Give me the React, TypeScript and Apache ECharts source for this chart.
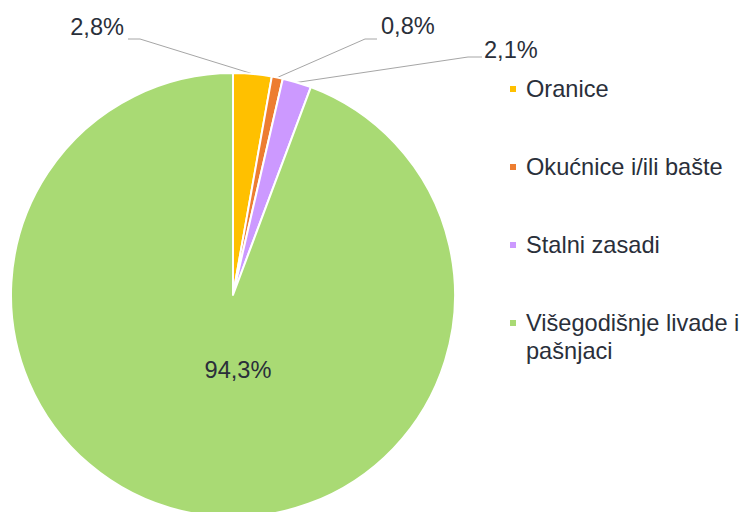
import React, { useEffect, useRef } from "react";
import * as echarts from "echarts";

const categories = ["Oranice", "Okućnice i/ili bašte", "Stalni zasadi", "Višegodišnje livade i pašnjaci"];
const legendLabels = ["Oranice", "Okućnice i/ili bašte", "Stalni zasadi", "\nVišegodišnje livade i\npašnjaci"];
const values = [2.8, 0.8, 2.1, 94.3];
const colors = ["#FFC000", "#ED7D31", "#CC99FF", "#A9DA74"];

const TEXT = "#2a2f3a";
const FONT = "'Liberation Sans', Arial, sans-serif";
const FS = 23.6;

export default function App() {
  const ref = useRef<HTMLDivElement>(null);
  useEffect(() => {
    if (!ref.current) return;
    const chart = echarts.init(ref.current, null, { renderer: "svg" });
    const cx = 233, cy = 295, r = 222;
    const total = values.reduce((a, b) => a + b, 0);
    const edge = (i: number) => {
      let before = 0;
      for (let k = 0; k < i; k++) before += values[k];
      const mid = ((before + values[i] / 2) / total) * Math.PI * 2;
      return [cx + r * Math.sin(mid), cy - r * Math.cos(mid)];
    };
    // label placement (layout only)
    const labelPos: any[] = [
      { x: 124, y: 27, align: "right", line: [[140, 39], [128, 39]] },
      { x: 381, y: 26, align: "left", line: [[365, 39], [377, 39]] },
      { x: 484, y: 50, align: "left", line: [[468, 57], [482, 57]] },
      { x: 238, y: 370, align: "center", line: null },
    ];
    const legendCenters = [89, 167, 245, 323];
    const legends = categories.map((name, i) => {
      const lines = legendLabels[i].split("\n").length;
      const lh = 28;
      return {
        show: true,
        orient: "vertical",
        left: 508,
        top: legendCenters[i] - (lines * lh) / 2,
        padding: 0,
        itemWidth: 8,
        itemHeight: 8,
        icon: "rect",
        selectedMode: false,
        data: [name],
        formatter: () => legendLabels[i],
        textStyle: {
          color: TEXT,
          fontSize: FS,
          fontFamily: FONT,
          lineHeight: lh,
          padding: [0, 0, 0, 4],
        },
      };
    });
    chart.setOption({
      animation: false,
      color: colors,
      legend: legends,
      series: [
        {
          type: "pie",
          center: [cx, cy],
          radius: r,
          startAngle: 90,
          clockwise: true,
          avoidLabelOverlap: false,
          itemStyle: { borderColor: "#ffffff", borderWidth: 2 },
          label: {
            show: true,
            position: "outside",
            color: TEXT,
            fontSize: FS,
            fontFamily: FONT,
            formatter: (p: any) => p.value.toFixed(1).replace(".", ",") + "%",
          },
          labelLine: { show: true, lineStyle: { color: "#a6a6a6", width: 1 } },
          labelLayout: (p: any) => {
            const lp = labelPos[p.dataIndex];
            const out: any = { x: lp.x, y: lp.y, align: lp.align, verticalAlign: "middle" };
            if (lp.line) {
              const start = edge(p.dataIndex);
              out.labelLinePoints = [start, lp.line[0], lp.line[1]];
            }
            return out;
          },
          emphasis: { disabled: true },
          data: categories.map((name, i) => ({
            name,
            value: values[i],
            ...(i === 3
              ? { label: { position: "inside" }, labelLine: { show: false } }
              : {}),
          })),
        },
      ],
    });
    return () => chart.dispose();
  }, []);
  return (
    <div
      ref={ref}
      style={{ position: "fixed", left: 0, top: 0, width: 743, height: 512, background: "#fff" }}
    />
  );
}
